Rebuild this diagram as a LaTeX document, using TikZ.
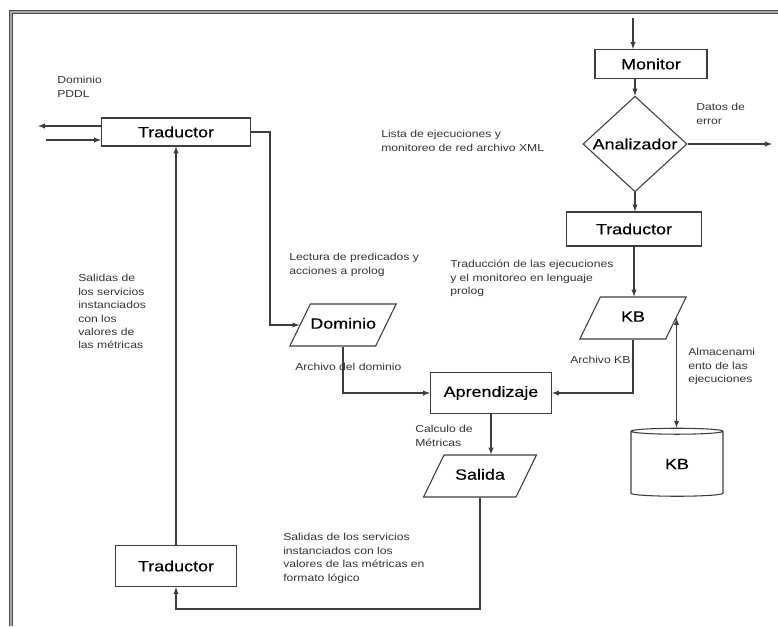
\documentclass[tikz,border=0pt]{standalone}
\usepackage{fontspec}
\setmainfont[FakeStretch=1.2]{Liberation Sans}
\newfontfamily\cajafont[FakeStretch=1.2,FakeBold=0.35]{Liberation Sans}
\usepackage{tikz}
\usetikzlibrary{shapes}
\usetikzlibrary{shapes.geometric}

\definecolor{linea}{rgb}{0.24,0.24,0.24}
\definecolor{texto}{rgb}{0.2,0.2,0.2}

\tikzset{
  caja/.style={draw=linea, line width=0.8pt, fill=white, inner sep=0pt, font=\cajafont\fontsize{11.2}{13}\selectfont},
  datos/.style={trapezium, trapezium left angle=64, trapezium right angle=116,
    draw=linea, line width=0.8pt, fill=white, inner xsep=0pt, inner ysep=10.5pt,
    text height=8pt, text depth=2.5pt, align=center, font=\cajafont\fontsize{11.2}{13}\selectfont},
  rombo/.style={diamond, draw=linea, line width=0.8pt, fill=white, inner sep=0pt,
    minimum width=78pt, minimum height=61.5pt, font=\cajafont\fontsize{11.2}{13}\selectfont},
  cilindro/.style={cylinder, shape border rotate=90, aspect=0.25, draw=linea, line width=0.8pt, fill=white,
    inner sep=0pt, minimum width=69pt, minimum height=51pt, font=\cajafont\fontsize{11.2}{13}\selectfont},
  nota/.style={anchor=north west, inner sep=0pt, align=left, text=texto, font=\fontsize{7.6}{10.1}\selectfont},
  flecha/.style={draw=linea, line width=0.8pt, -latex}
}

\begin{document}
\begin{tikzpicture}[x=0.75pt,y=0.75pt,yscale=-1,xscale=1]
\useasboundingbox (0,0) rectangle (778,626);

% Marco
\draw [draw=black!70, line width=0.6pt, double=black!35, double distance=1.9pt] (11,626) -- (11,12) -- (778,12) ;

% Cajas
\node [caja, minimum width=111.75pt, minimum height=21pt] (trad1) at (176,132) {Traductor};
\node [caja, minimum width=84pt, minimum height=21.75pt] (mon) at (651,64) {Monitor};
\node [rombo] (ana) at (635,144) {Analizador};
\node [caja, minimum width=101.25pt, minimum height=25.5pt] (trad2) at (634,229) {Traductor};
\node [datos, text width=49pt] (kbd) at (633,318) {KB};
\node [datos, text width=49pt] (dom) at (343,325) {Dominio};
\node [caja, minimum width=90.75pt, minimum height=30.75pt] (apr) at (491,393) {Aprendizaje};
\node [datos, text width=54pt] (sal) at (480,476) {Salida};
\node [cilindro] (kbc) at (677,464) {KB};
\node [caja, minimum width=90.75pt, minimum height=30.75pt] (trad3) at (176,566) {Traductor};

% Puntos libres
\coordinate (ent) at (633,18);
\coordinate (sal1) at (38,126);
\coordinate (in1) at (46,140);
\coordinate (err) at (772,144);
\coordinate (c1) at (270,132);
\coordinate (c2) at (176,609);

% Conectores
\draw [flecha] (ent) -- (ent |- mon.north) ;
\draw [flecha] (mon.south -| ana.north) -- (ana.north) ;
\draw [flecha] (ana.east) -- (err) ;
\draw [flecha] (ana.south) -- (ana.south |- trad2.north) ;
\draw [flecha] (trad2.south) -- (trad2.south |- kbd.north) ;
\draw [flecha] (kbd.south) |- (apr.east) ;
\draw [draw=linea, line width=0.8pt, latex-latex] (kbd.east) -- (kbd.east |- kbc.north) ;
\draw [flecha] (trad1.east) -- (c1) |- (dom.west) ;
\draw [flecha] (dom.south) |- (apr.west) ;
\draw [flecha] (apr.south) -- (apr.south |- sal.north) ;
\draw [flecha] (sal.south) |- (c2) -- (trad3.south) ;
\draw [flecha] (trad3.north) -- (trad1.south) ;
\draw [flecha] (trad1.west |- sal1) -- (sal1) ;
\draw [flecha] (in1) -- (trad1.west |- in1) ;

% Textos
\node [nota] (t1) at (57,76) {Dominio\\PDDL};
\node [nota] (t2) at (381,130) {Lista de ejecuciones y\\monitoreo de red archivo XML};
\node [nota] (t3) at (696,103) {Datos de\\error};
\node [nota] (t4) at (450,260) {Traducción de las ejecuciones\\y el monitoreo en lenguaje\\prolog};
\node [nota] (t5) at (289,253) {Lectura de predicados y\\acciones a prolog};
\node [nota] (t6) at (78,274) {Salidas de\\los servicios\\instanciados\\con los\\valores de\\las métricas};
\node [nota] (t7) at (295,363) {Archivo del dominio};
\node [nota] (t8) at (570,356) {Archivo KB};
\node [nota] (t9) at (688,348) {Almacenami\\ento de las\\ejecuciones};
\node [nota] (t10) at (415,425) {Calculo de\\Métricas};
\node [nota] (t11) at (283,533) {Salidas de los servicios\\instanciados con los\\valores de las métricas en\\formato lógico};

\end{tikzpicture}
\end{document}
